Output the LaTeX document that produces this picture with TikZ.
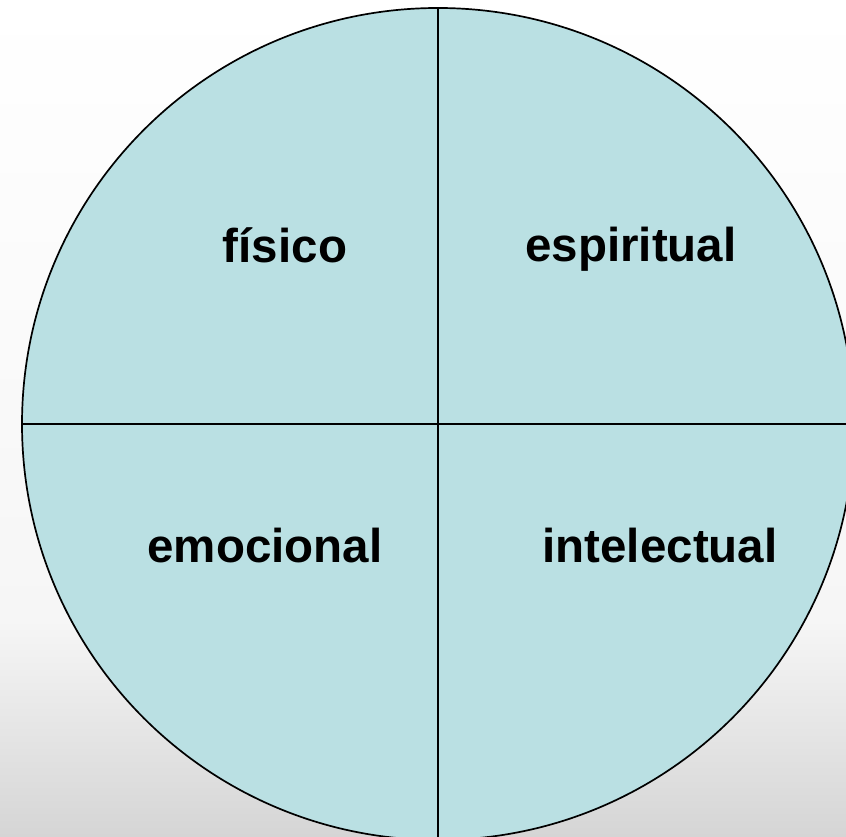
\documentclass[tikz,border=0pt]{standalone}
\usepackage{fontspec}
\setmainfont{Liberation Sans}
\definecolor{disk}{RGB}{186,224,227}
\definecolor{bgmid}{RGB}{246,246,246}
\definecolor{bgbot}{RGB}{213,213,213}
\tikzset{
  label/.style={font=\fontsize{47.5}{57}\selectfont\bfseries, anchor=base, inner sep=0pt},
  divider/.style={line width=1.4pt, black},
}
\begin{document}
\begin{tikzpicture}[x=1pt,y=1pt]
\useasboundingbox (0,0) rectangle (846,837);
\clip (0,0) rectangle (846,837);
\shade[top color=white, bottom color=bgmid, draw=none] (0,217) rectangle (846,837);
\shade[top color=bgmid, bottom color=bgbot, draw=none] (0,0) rectangle (846,217);
\node[circle, draw=black, line width=1.7pt, fill=disk, minimum size=832pt, inner sep=0pt, outer sep=0pt] (c) at (438,413) {};
\draw[divider] (c.north) -- (c.south);
\draw[divider] (c.west) -- (c.east);
\node[label] (fis) at (285,574) {físico};
\node[label] (esp) at (631,575) {espiritual};
\node[label] (emo) at (265,274) {emocional};
\node[label] (int) at (660,274) {intelectual};
\end{tikzpicture}
\end{document}
